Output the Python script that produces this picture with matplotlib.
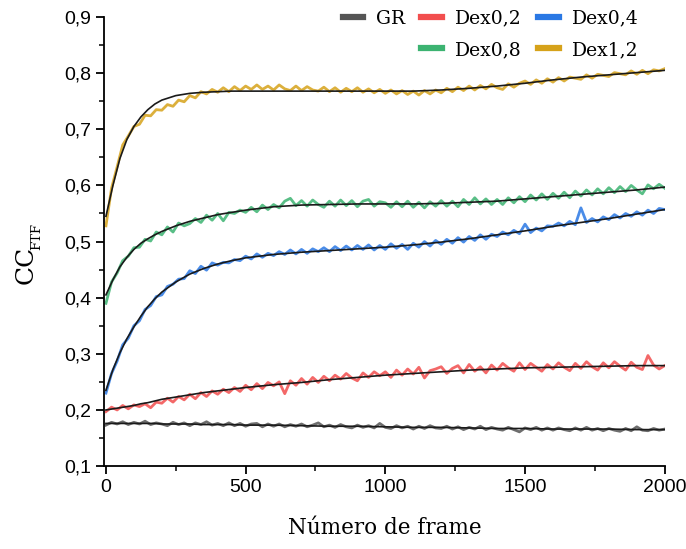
import matplotlib
matplotlib.use("Agg")
import matplotlib.pyplot as plt
from matplotlib.lines import Line2D
from matplotlib.ticker import MultipleLocator, FuncFormatter

# frames sampled every 20 frames
frames = list(range(0, 2001, 20))

gr = [0.173,0.178,0.175,0.179,0.174,0.178,0.175,0.180,0.174,0.177,
      0.175,0.172,0.178,0.174,0.177,0.172,0.177,0.174,0.179,0.173,
      0.176,0.172,0.177,0.172,0.176,0.171,0.175,0.176,0.170,0.175,
      0.171,0.175,0.170,0.174,0.171,0.175,0.170,0.173,0.177,0.170,
      0.173,0.169,0.174,0.170,0.168,0.173,0.169,0.172,0.168,0.176,
      0.169,0.167,0.172,0.168,0.171,0.166,0.171,0.167,0.172,0.168,
      0.167,0.171,0.166,0.170,0.165,0.169,0.166,0.171,0.165,0.169,
      0.166,0.164,0.169,0.165,0.161,0.168,0.165,0.169,0.164,0.168,
      0.164,0.168,0.165,0.163,0.168,0.164,0.169,0.164,0.167,0.163,
      0.167,0.164,0.162,0.167,0.163,0.170,0.164,0.163,0.167,0.164,
      0.166]

dex02 = [0.197,0.205,0.200,0.208,0.202,0.209,0.206,0.211,0.204,0.214,
         0.212,0.221,0.214,0.224,0.218,0.228,0.220,0.231,0.224,0.234,
         0.228,0.237,0.231,0.240,0.233,0.244,0.236,0.247,0.238,0.249,
         0.243,0.250,0.229,0.252,0.244,0.256,0.246,0.258,0.249,0.260,
         0.252,0.262,0.255,0.265,0.257,0.252,0.266,0.258,0.268,0.261,
         0.268,0.258,0.271,0.262,0.273,0.264,0.276,0.257,0.270,0.273,
         0.277,0.265,0.274,0.279,0.266,0.281,0.269,0.277,0.266,0.280,
         0.271,0.283,0.275,0.269,0.284,0.272,0.283,0.276,0.269,0.281,
         0.273,0.284,0.276,0.270,0.283,0.274,0.286,0.277,0.271,0.284,
         0.275,0.286,0.278,0.271,0.285,0.276,0.272,0.297,0.280,0.273,
         0.279]

dex04 = [0.230,0.265,0.287,0.316,0.328,0.350,0.359,0.379,0.386,0.402,
         0.405,0.420,0.424,0.433,0.434,0.448,0.443,0.456,0.449,0.462,
         0.458,0.463,0.462,0.468,0.466,0.474,0.469,0.478,0.472,0.479,
         0.475,0.482,0.477,0.485,0.478,0.486,0.479,0.487,0.482,0.489,
         0.482,0.491,0.484,0.492,0.485,0.493,0.486,0.494,0.485,0.493,
         0.486,0.496,0.488,0.495,0.486,0.497,0.490,0.500,0.492,0.502,
         0.495,0.504,0.497,0.507,0.499,0.509,0.502,0.512,0.504,0.513,
         0.509,0.517,0.512,0.520,0.514,0.531,0.516,0.524,0.519,0.528,
         0.527,0.533,0.528,0.536,0.530,0.560,0.534,0.541,0.535,0.544,
         0.539,0.548,0.542,0.550,0.545,0.553,0.547,0.556,0.550,0.559,
         0.557]

dex08 = [0.390,0.428,0.444,0.466,0.474,0.489,0.490,0.504,0.501,0.517,
         0.512,0.526,0.517,0.533,0.528,0.532,0.541,0.534,0.547,0.538,
         0.550,0.537,0.552,0.550,0.556,0.552,0.561,0.553,0.565,0.557,
         0.566,0.560,0.572,0.577,0.564,0.573,0.563,0.574,0.566,0.561,
         0.572,0.563,0.574,0.564,0.573,0.562,0.572,0.575,0.563,0.571,
         0.569,0.561,0.571,0.562,0.572,0.561,0.570,0.560,0.571,0.563,
         0.573,0.563,0.572,0.562,0.575,0.566,0.578,0.567,0.576,0.566,
         0.575,0.566,0.578,0.569,0.580,0.571,0.583,0.574,0.585,0.575,
         0.586,0.577,0.588,0.578,0.590,0.581,0.592,0.583,0.594,0.585,
         0.596,0.587,0.598,0.589,0.600,0.592,0.585,0.601,0.594,0.602,
         0.595]

dex12 = [0.528,0.595,0.633,0.672,0.688,0.705,0.709,0.725,0.724,0.735,
         0.734,0.744,0.741,0.752,0.749,0.760,0.756,0.767,0.763,0.771,
         0.766,0.774,0.767,0.776,0.769,0.777,0.771,0.779,0.771,0.777,
         0.770,0.779,0.772,0.769,0.777,0.769,0.776,0.770,0.768,0.775,
         0.767,0.774,0.766,0.773,0.767,0.774,0.766,0.772,0.765,0.771,
         0.764,0.770,0.763,0.769,0.762,0.768,0.761,0.769,0.763,0.770,
         0.765,0.773,0.767,0.775,0.769,0.777,0.770,0.778,0.772,0.780,
         0.774,0.771,0.781,0.775,0.782,0.786,0.780,0.788,0.782,0.790,
         0.784,0.792,0.786,0.793,0.791,0.789,0.797,0.791,0.798,0.796,
         0.794,0.801,0.799,0.797,0.804,0.798,0.805,0.799,0.806,0.804,
         0.808]

# fitted curves (black)
fit_frames = [0,25,50,75,100,125,150,175,200,250,300,350,400,450,500,
              600,700,800,900,1000,1100,1200,1300,1400,1500,1600,1700,1800,1900,2000]
fit_gr = [0.176,0.176,0.176,0.176,0.176,0.176,0.176,0.176,0.175,0.175,0.175,0.174,0.174,0.174,0.173,
          0.173,0.172,0.171,0.171,0.170,0.169,0.169,0.168,0.167,0.167,0.166,0.166,0.166,0.165,0.165]
fit_02 = [0.200,0.202,0.204,0.206,0.208,0.211,0.213,0.216,0.219,0.223,0.227,0.231,0.234,0.237,0.240,
          0.245,0.249,0.254,0.258,0.262,0.265,0.268,0.271,0.273,0.275,0.276,0.277,0.278,0.279,0.279]
fit_04 = [0.235,0.272,0.302,0.327,0.348,0.367,0.384,0.398,0.410,0.428,0.442,0.452,0.460,0.466,0.471,
          0.477,0.481,0.484,0.487,0.490,0.494,0.499,0.505,0.512,0.519,0.527,0.534,0.541,0.549,0.557]
fit_08 = [0.405,0.432,0.455,0.472,0.486,0.497,0.505,0.512,0.518,0.528,0.536,0.542,0.548,0.552,0.556,
          0.562,0.565,0.566,0.567,0.567,0.567,0.568,0.570,0.572,0.576,0.580,0.584,0.588,0.592,0.597]
fit_12 = [0.545,0.600,0.648,0.682,0.705,0.722,0.735,0.745,0.752,0.760,0.764,0.766,0.767,0.768,0.768,
          0.768,0.768,0.768,0.768,0.768,0.768,0.770,0.773,0.777,0.782,0.788,0.793,0.797,0.801,0.805]

labels = ["GR", "Dex0,2", "Dex0,4", "Dex0,8", "Dex1,2"]
colors = ["#555555", "#f24e4e", "#2a78e4", "#3cb371", "#d6a21a"]

fig = plt.figure(figsize=(6.86, 5.49), dpi=100)
ax = fig.add_axes([0.152, 0.151, 0.817, 0.818])

series = [gr, dex02, dex04, dex08, dex12]
fits = [fit_gr, fit_02, fit_04, fit_08, fit_12]
for s, c in zip(series, colors):
    ax.plot(frames, s, color=c, lw=2.0, alpha=0.85)
for f in fits:
    ax.plot(fit_frames, f, color="#1a1a1a", lw=1.2)

ax.set_xlim(-6, 2000)
ax.set_ylim(0.1, 0.9)
ax.spines["top"].set_visible(False)
ax.spines["right"].set_visible(False)
for sp in ("left", "bottom"):
    ax.spines[sp].set_linewidth(1.3)

ax.xaxis.set_major_locator(MultipleLocator(500))
ax.xaxis.set_minor_locator(MultipleLocator(250))
ax.yaxis.set_major_locator(MultipleLocator(0.1))
ax.yaxis.set_minor_locator(MultipleLocator(0.05))
ax.yaxis.set_major_formatter(FuncFormatter(lambda v, p: f"{v:.1f}".replace(".", ",")))
ax.tick_params(which="major", direction="out", length=6, width=1.3, labelsize=14)
ax.tick_params(which="minor", direction="out", length=3.5, width=1.1)
for lab in ax.get_xticklabels() + ax.get_yticklabels():
    lab.set_family("Liberation Sans")

ax.set_xlabel("Número de frame", family="DejaVu Serif", fontsize=15.5, labelpad=15)

# y label: CC with small FTF subscript (rotated)
fig.text(0.038, 0.517, "CC", rotation=90, family="DejaVu Serif", fontsize=18,
         ha="center", va="center")
fig.text(0.054, 0.570, "FTF", rotation=90, family="DejaVu Serif", fontsize=9.5,
         ha="center", va="center")

# legend: two rows, first column has only GR
hd = [Line2D([], [], color=c, lw=4.5) for c in colors]
blank = Line2D([], [], alpha=0)
handles = [hd[0], blank, hd[1], hd[3], hd[2], hd[4]]
names = [labels[0], "", labels[1], labels[3], labels[2], labels[4]]
ax.legend(handles, names, ncol=3, loc="upper right", bbox_to_anchor=(0.953, 1.016),
          borderaxespad=0, borderpad=0, frameon=False,
          prop={"family": "DejaVu Serif", "size": 13.5},
          handlelength=1.1, handletextpad=0.7, columnspacing=0.85, labelspacing=0.7)

plt.savefig("out.png", dpi=100)
